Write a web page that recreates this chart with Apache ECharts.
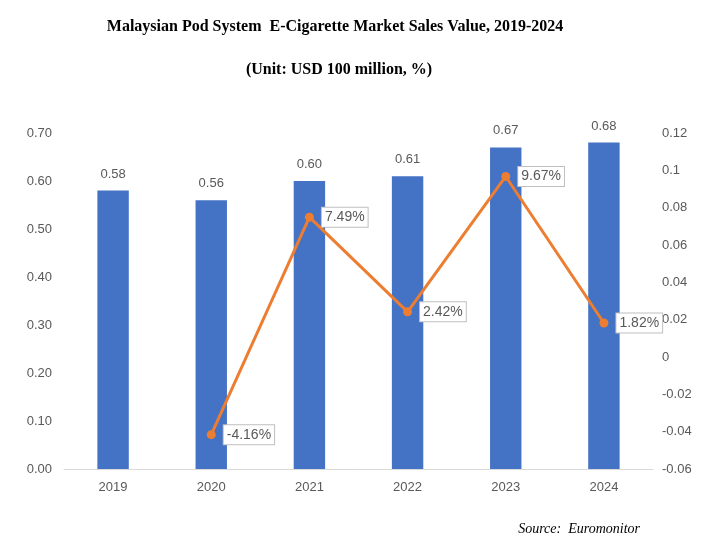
<!DOCTYPE html>
<html>
<head>
<meta charset="utf-8" />
<title>Malaysian Pod System E-Cigarette Market Sales Value</title>
<script src="https://cdn.jsdelivr.net/npm/echarts@6/dist/echarts.min.js"></script>
<style>
  html, body { margin: 0; padding: 0; background: #fff; }
  #main { width: 714px; height: 544px; }
</style>
</head>
<body>
<div id="main"></div>
<script type="text/javascript">
// data
var years = ['2019', '2020', '2021', '2022', '2023', '2024'];
var salesValue = [0.58, 0.56, 0.60, 0.61, 0.67, 0.68];   // USD 100 million
var growthRate = [null, -0.0416, 0.0749, 0.0242, 0.0967, 0.0182];

var labelGray = '#595959';
var sans = '"Liberation Sans", Arial, sans-serif';
var serif = '"Liberation Serif", "Times New Roman", serif';

var myChart = echarts.init(document.getElementById('main'));

var option = {
    backgroundColor: '#fff',
    animation: false,
    title: [
        {
            text: 'Malaysian Pod System  E-Cigarette Market Sales Value, 2019-2024',
            left: 330, top: 14, textAlign: 'center',
            textStyle: {fontFamily: serif, fontSize: 16, fontWeight: 'bold', color: '#000'}
        },
        {
            text: '(Unit: USD 100 million, %)',
            left: 334, top: 57, textAlign: 'center',
            textStyle: {fontFamily: serif, fontSize: 16, fontWeight: 'bold', color: '#000'}
        },
        {
            text: 'Source:  Euromonitor',
            right: 69, top: 517,
            textStyle: {fontFamily: serif, fontSize: 14, fontStyle: 'italic', fontWeight: 'normal', color: '#000'}
        }
    ],
    grid: {left: 64, right: 61, top: 133, bottom: 75},
    xAxis: {
        type: 'category',
        data: years,
        axisLine: {lineStyle: {color: '#D9D9D9', width: 1}},
        axisTick: {show: false},
        axisLabel: {color: labelGray, fontFamily: sans, fontSize: 13, margin: 12}
    },
    yAxis: [
        {
            type: 'value',
            min: 0, max: 0.7, interval: 0.1,
            splitLine: {show: false},
            axisLine: {show: false},
            axisTick: {show: false},
            axisLabel: {
                color: labelGray, fontFamily: sans, fontSize: 13, margin: 12,
                formatter: function (v) { return v.toFixed(2); }
            }
        },
        {
            type: 'value',
            min: -0.06, max: 0.12, interval: 0.02,
            splitLine: {show: false},
            axisLine: {show: false},
            axisTick: {show: false},
            axisLabel: {
                color: labelGray, fontFamily: sans, fontSize: 13, margin: 9,
                formatter: function (v) { return String(Math.round(v * 100) / 100); }
            }
        }
    ],
    series: [
        {
            name: 'Sales Value',
            type: 'bar',
            data: salesValue,
            barWidth: '32%',
            itemStyle: {color: '#4472C4'},
            label: {
                show: true, position: 'top', distance: 10,
                color: labelGray, fontFamily: sans, fontSize: 13,
                formatter: function (p) { return p.value.toFixed(2); }
            }
        },
        {
            name: 'Growth Rate',
            type: 'line',
            yAxisIndex: 1,
            data: growthRate,
            symbol: 'circle',
            symbolSize: 9,
            lineStyle: {color: '#ED7D31', width: 3},
            itemStyle: {color: '#ED7D31'},
            label: {
                show: true, position: 'right', distance: 8,
                color: labelGray, fontFamily: sans, fontSize: 14,
                backgroundColor: '#fff',
                borderColor: '#BFBFBF', borderWidth: 1,
                padding: [3, 3, 2, 3],
                formatter: function (p) { return (p.value * 100).toFixed(2) + '%'; }
            },
            z: 5
        }
    ]
};

myChart.setOption(option);
</script>
</body>
</html>
